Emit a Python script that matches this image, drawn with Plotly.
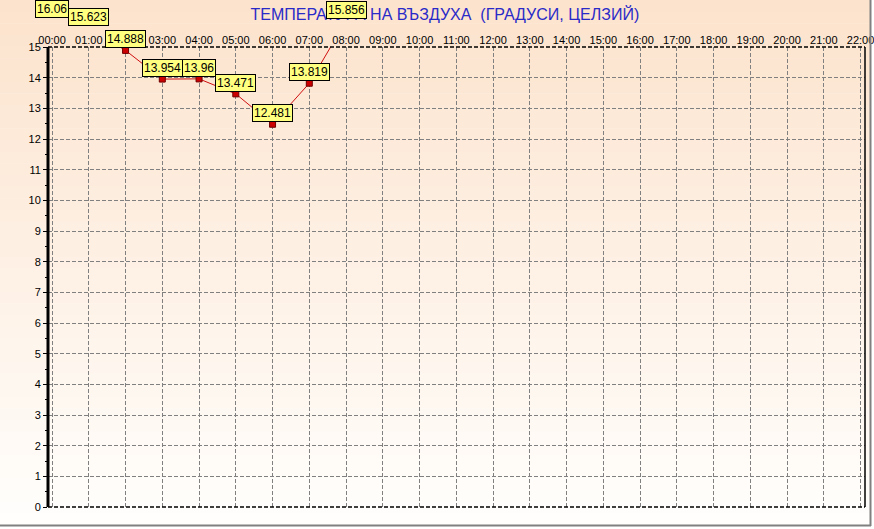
import plotly.graph_objects as go

# data
hours = list(range(0, 23))
hour_labels = ["%02d:00" % h for h in hours]
temp_hours = [0, 1, 2, 3, 4, 5, 6, 7, 8]
temp_values = [16.06, 15.623, 14.888, 13.954, 13.96, 13.471, 12.481, 13.819, 15.856]
temp_text = ["16.06", "15.623", "14.888", "13.954", "13.96", "13.471", "12.481", "13.819", "15.856"]

title = "ТЕМПЕРАТУРА НА ВЪЗДУХА  (ГРАДУСИ, ЦЕЛЗИЙ)"

# figure geometry
W, H = 874, 529
ML, MR, MT, MB = 48, 9, 0, 22
plot_w = W - ML - MR
plot_h = H - MT - MB
top_px = 47  # top of the visible y range
y_dom_top = (plot_h - top_px) / plot_h
y_max = 15
x_range = [-0.11, 22.12]
px_per_unit = (plot_h - top_px) / y_max
label_h = 17


def px_x(p):
    return (p - ML) / plot_w


def px_y(p):
    return (plot_h - p) / plot_h


fig = go.Figure()

fig.add_trace(go.Scatter(
    x=temp_hours, y=temp_values, mode="lines+markers",
    line=dict(color="#d01010", width=1),
    marker=dict(symbol="square", size=6, color="#cc0000",
                line=dict(color="#700000", width=1)),
    hoverinfo="skip", showlegend=False,
))

# value labels (hidden full-height axis so labels above the range still show)
for h, v, t in zip(temp_hours, temp_values, temp_text):
    shift = 2
    box_top = top_px - (v - y_max) * px_per_unit - shift - label_h
    if box_top < 1:  # keep label inside the picture
        shift -= 1 - box_top
    fig.add_annotation(
        x=h, y=v, xref="x2", yref="y2", text=t, showarrow=False,
        yanchor="bottom", yshift=shift,
        font=dict(family="Liberation Sans, Arial", size=12, color="black"),
        bgcolor="#ffff80", bordercolor="black", borderwidth=1, borderpad=1,
    )

# background gradient
n = 45
top_c = (252, 227, 205)
bot_c = (255, 254, 252)
for i in range(n):
    f = i / (n - 1)
    c = tuple(round(top_c[k] + (bot_c[k] - top_c[k]) * f) for k in range(3))
    fig.add_shape(type="rect", xref="paper", yref="paper", layer="below",
                  x0=px_x(0), x1=px_x(870),
                  y0=px_y(525 * (i + 1) / n + 0.5), y1=px_y(525 * i / n),
                  fillcolor="rgb(%d,%d,%d)" % c, line=dict(width=0))

# outer gray frame
fig.add_shape(type="line", xref="paper", yref="paper", x0=px_x(0), x1=px_x(871),
              y0=px_y(525.5), y1=px_y(525.5), line=dict(color="#808080", width=2))
fig.add_shape(type="line", xref="paper", yref="paper", x0=px_x(870.5), x1=px_x(870.5),
              y0=px_y(0), y1=px_y(526), line=dict(color="#808080", width=2))

# plot borders
fig.add_shape(type="line", xref="x domain", yref="y domain", x0=0, x1=1, y0=1, y1=1,
              line=dict(color="black", width=1.5, dash="4px,2px"))
fig.add_shape(type="line", xref="x domain", yref="y domain", x0=0, x1=1, y0=0, y1=0,
              line=dict(color="black", width=1.5, dash="4px,2px"))
fig.add_shape(type="line", xref="x domain", yref="y domain", x0=1, x1=1, y0=0, y1=1,
              line=dict(color="black", width=1.5))
fig.add_shape(type="line", xref="x domain", yref="y domain", x0=0, x1=0, y0=0, y1=1,
              line=dict(color="black", width=3))

tick_font = dict(family="Liberation Sans, Arial", size=11, color="black")

fig.update_layout(
    width=W, height=H,
    margin=dict(l=ML, r=MR, t=MT, b=MB, autoexpand=False),
    paper_bgcolor="white", plot_bgcolor="rgba(0,0,0,0)",
    title=dict(text=title, x=0.509, y=1 - 14 / H, xanchor="center", yanchor="middle",
               font=dict(family="Liberation Sans, Arial", size=16, color="#2a2ac8")),
    xaxis=dict(range=x_range, side="top", anchor="y",
               tickmode="array", tickvals=hours, ticktext=hour_labels,
               tickfont=tick_font, ticks="", ticklabeloverflow="allow",
               showline=False, zeroline=False,
               showgrid=True, gridcolor="#808080", griddash="4px,2px", gridwidth=1),
    yaxis=dict(range=[0, y_max], domain=[0, y_dom_top], anchor="x",
               dtick=1, tick0=0, tickfont=tick_font,
               ticks="outside", ticklen=4, tickcolor="black",
               minor=dict(ticks="outside", ticklen=2, dtick=0.5, tickcolor="black", showgrid=False),
               showline=False, zeroline=False,
               showgrid=True, gridcolor="#808080", griddash="4px,2px", gridwidth=1),
    xaxis2=dict(range=x_range, domain=[0, 1], anchor="y2", visible=False),
    yaxis2=dict(range=[0, y_max / y_dom_top], domain=[0, 1], anchor="x2", visible=False),
)

fig.write_html("out.html", config={"displayModeBar": False},
               post_script="document.body.style.margin='0';")
